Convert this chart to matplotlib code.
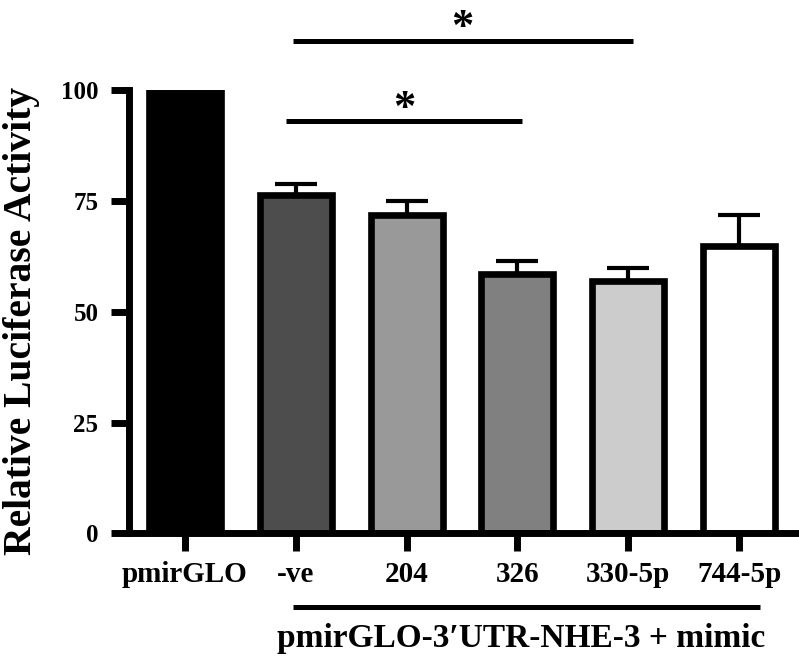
import matplotlib.pyplot as plt
import numpy as np

plt.rcParams['font.family'] = ['Liberation Serif', 'DejaVu Serif']
plt.rcParams['font.weight'] = 'bold'

# data
groups = ['pmirGLO', '-ve', '204', '326', '330-5p', '744-5p']
activity = [100, 76.5, 71.8, 58.5, 56.9, 64.8]
sem = [0, 2.5, 3.2, 2.9, 3.1, 7.2]
fills = ['#000000', '#4d4d4d', '#999999', '#808080', '#cccccc', '#ffffff']
yticks = [0, 25, 50, 75, 100]

fig = plt.figure(figsize=(7.99, 6.59), dpi=100)
ax = fig.add_axes([0.1614, 0.1905, 0.8386, 0.6722])

x = np.arange(len(groups))
ax.bar(x, activity, width=0.65, color=fills, edgecolor='black', linewidth=4.8, zorder=2)
ax.errorbar(x[1:], activity[1:], yerr=[np.zeros(len(x) - 1), sem[1:]], fmt='none',
            ecolor='black', elinewidth=3, capsize=14.8, capthick=3, zorder=1)

ax.set_xlim(-0.505, 5.54)
ax.set_ylim(0, 100)
ax.set_yticks(yticks)
ax.set_xticks(x)
ax.set_xticklabels(groups)
for s in ['top', 'right']:
    ax.spines[s].set_visible(False)
for s in ['left', 'bottom']:
    ax.spines[s].set_linewidth(5)
ax.tick_params(axis='both', direction='out', length=13, width=5)
ax.tick_params(axis='y', labelsize=18, pad=9)
ax.tick_params(axis='x', labelsize=21, pad=7)

fig.text(22 / 799, 0.513, 'Relative Luciferase Activity', rotation=90,
         ha='center', va='center', fontsize=28.5, fontweight='bold')

# significance bars
ax.plot([0.975, 4.04], [111.2, 111.2], color='black', lw=3.6, clip_on=False, solid_capstyle='butt')
ax.plot([0.91, 3.04], [93.0, 93.0], color='black', lw=3.6, clip_on=False, solid_capstyle='butt')
ax.text(2.5, 109.6, '*', ha='center', va='bottom', fontsize=32, clip_on=False)
ax.text(1.98, 91.2, '*', ha='center', va='bottom', fontsize=32, clip_on=False)

# group bracket below axis
tr = ax.get_xaxis_transform()
ax.plot([0.975, 5.19], [-0.166, -0.166], color='black', lw=3.6, transform=tr,
        clip_on=False, solid_capstyle='butt')
ax.text(3.03, -0.256, 'pmirGLO-3\u2032UTR-NHE-3 + mimic', transform=tr, ha='center',
        va='baseline', fontsize=24, fontweight='bold')

fig.savefig('out.png', dpi=100)
